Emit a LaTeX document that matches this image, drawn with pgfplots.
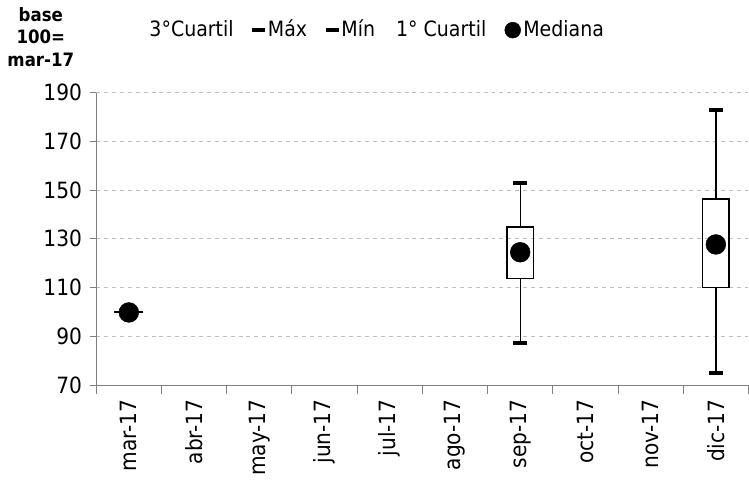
\documentclass[border=0pt]{standalone}
\usepackage{pgfplots}
\pgfplotsset{compat=1.18}
\usepgfplotslibrary{statistics}
\usepackage{fontspec}
\setmainfont{DejaVu Sans Condensed}
\begin{document}
\fontsize{17}{20}\selectfont
\begin{tikzpicture}
\begin{axis}[
  scale only axis, width=495pt, height=222pt,
  xmin=-0.5, xmax=9.5, ymin=70, ymax=190,
  ytick={70,90,...,190},
  xtick={0,...,9}, xticklabels={mar-17,abr-17,may-17,jun-17,jul-17,ago-17,sep-17,oct-17,nov-17,dic-17},
  xticklabel style={rotate=90, anchor=east},
  minor xtick={-0.5,0.5,...,9.5},
  major x tick style={draw=none},
  minor x tick style={gray, line width=0.8pt},
  xtick align=outside, ytick align=outside,
  tick style={gray, line width=0.8pt},
  major tick length=5pt, minor tick length=7pt,
  axis x line*=bottom, axis y line*=left,
  axis line style={gray, line width=0.8pt},
  ymajorgrids, grid style={dashed, lightgray, line width=0.8pt},
  /pgf/number format/assume math mode=true,
  tick label style={font=\fontsize{17}{20}\selectfont},
  boxplot/draw direction=y,
  legend style={draw=none, at={(0.43,1.16)}, anchor=south, legend columns=5, font=\fontsize{16}{19}\selectfont, /tikz/every even column/.append style={column sep=12pt}},
  legend cell align=left,
  clip=false,
]
\addlegendimage{empty legend}\addlegendentry{3\textdegree Cuartil}
\addlegendimage{only marks, mark=-, mark size=5pt, line width=3pt}\addlegendentry{Máx}
\addlegendimage{only marks, mark=-, mark size=5pt, line width=3pt}\addlegendentry{Mín}
\addlegendimage{empty legend}\addlegendentry{1\textdegree{} Cuartil}
\addlegendimage{only marks, mark=*, mark size=6pt}\addlegendentry{Mediana}
\addplot[black, line width=1pt, boxplot prepared={lower whisker=87.3, lower quartile=113.7, median=124.5, upper quartile=134.9, upper whisker=152.8, draw position=6, box extend=0.4, whisker extend=0, every median/.style={draw=none}}, forget plot] coordinates {};
\addplot[black, line width=1pt, boxplot prepared={lower whisker=74.8, lower quartile=109.9, median=127.7, upper quartile=146.3, upper whisker=182.8, draw position=9, box extend=0.4, whisker extend=0, every median/.style={draw=none}}, forget plot] coordinates {};
\addplot[only marks, mark=-, mark size=5.5pt, line width=3pt, black, forget plot] coordinates {(6,152.8) (6,87.3) (9,182.8) (9,74.8)};
\addplot[only marks, mark=*, mark size=7.5pt, black, forget plot] coordinates {(0,99.8) (6,124.5) (9,127.7)};
\addplot[only marks, mark=-, mark size=11pt, line width=1.5pt, black, forget plot] coordinates {(0,100)};
\node[font=\bfseries\fontsize{14}{17}\selectfont, align=center] at (rel axis cs:-0.085,1.19) {base\\100=\\mar-17};
\end{axis}
\end{tikzpicture}
\end{document}
